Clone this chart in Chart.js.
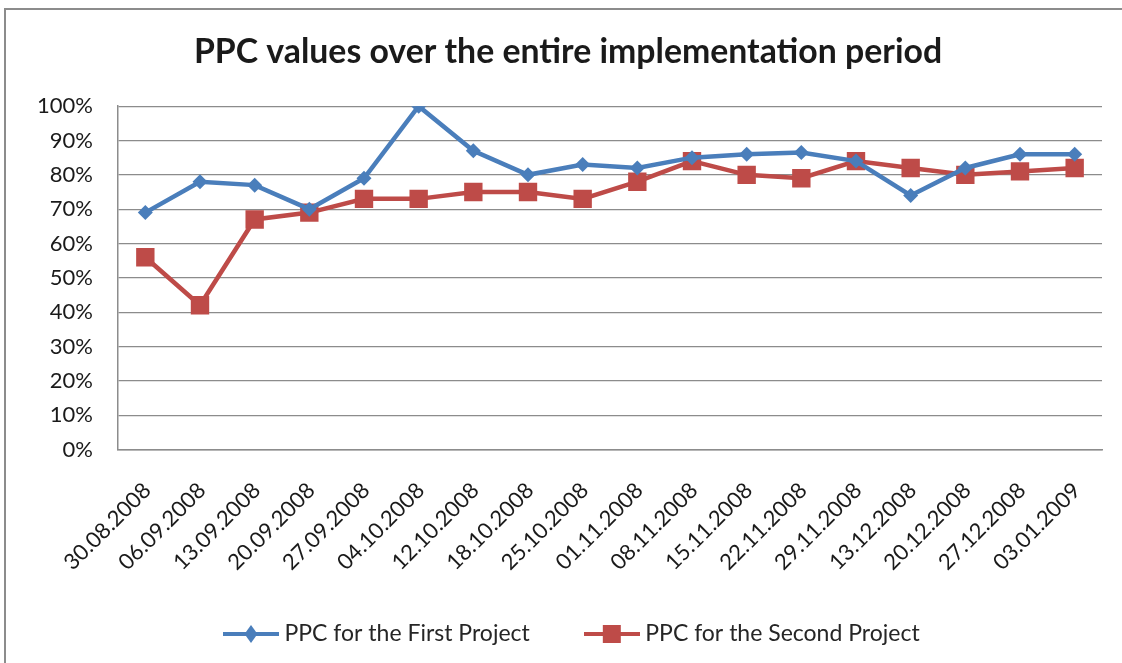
<!DOCTYPE html>
<html>
<head>
<meta charset="utf-8">
<script src="https://cdn.jsdelivr.net/npm/chart.js@4.4.1/dist/chart.umd.min.js"></script>
<style>
  html, body { margin: 0; padding: 0; background: #ffffff; }
  #frame { position: absolute; left: 4px; top: 8px; width: 1130px; height: 670px;
           border-top: 2px solid #8c8c8c; border-left: 2px solid #8c8c8c; box-sizing: border-box; }
  #wrap { position: absolute; left: 0; top: 0; width: 1122px; height: 663px; }
</style>
</head>
<body>
<div id="frame"></div>
<div id="wrap"><canvas id="c" width="1122" height="663"></canvas></div>
<script>
const categories = ["30.08.2008","06.09.2008","13.09.2008","20.09.2008","27.09.2008","04.10.2008",
  "12.10.2008","18.10.2008","25.10.2008","01.11.2008","08.11.2008","15.11.2008","22.11.2008",
  "29.11.2008","13.12.2008","20.12.2008","27.12.2008","03.01.2009"];
const firstProject  = [69, 78, 77, 70, 79, 100, 87, 80, 83, 82, 85, 86, 86.5, 84, 74, 82, 86, 86];
const secondProject = [56, 42, 67, 69, 73, 73, 75, 75, 73, 78, 84, 80, 79, 84, 82, 80, 81, 82];
const seriesNames = ["PPC for the First Project", "PPC for the Second Project"];
const yTicks = [0, 10, 20, 30, 40, 50, 60, 70, 80, 90, 100];

const BLUE = "#4a7ebb", RED = "#be4b48";
const FONT = "Lato, 'Liberation Sans', sans-serif";
const LEGEND_START_X = 229;
const TITLE_CENTER_X = 568;

function legendIcon(color, shape) {
  const cv = document.createElement("canvas");
  cv.width = 56; cv.height = 20;
  const g = cv.getContext("2d");
  g.strokeStyle = color; g.lineWidth = 4; g.lineCap = "butt";
  g.beginPath(); g.moveTo(0, 10); g.lineTo(56, 10); g.stroke();
  g.fillStyle = color;
  g.beginPath();
  if (shape === "diamond") {
    g.moveTo(28, 1); g.lineTo(34.5, 10); g.lineTo(28, 19); g.lineTo(21.5, 10); g.closePath();
  } else {
    g.rect(19, 1, 18, 18);
  }
  g.fill();
  return cv;
}

const blockShift = {
  id: "blockShift",
  afterLayout(chart) {
    const lg = chart.legend;
    if (lg && lg.lineWidths) {
      const p = lg.options.labels.padding;
      const start = (lg.left + p + lg.right - lg.lineWidths[0]) / 2;
      const d = LEGEND_START_X - start;
      lg.left += d; lg.right += d;
    }
    const tb = chart.titleBlock;
    if (tb) {
      const d = TITLE_CENTER_X - (tb.left + tb.right) / 2;
      tb.left += d; tb.right += d;
    }
    // let the rotated x labels extend below the axis box without being clipped
    const xs = chart.scales.x;
    if (xs) { xs.bottom = chart.height; }
  }
};

new Chart(document.getElementById("c"), {
  type: "line",
  data: {
    labels: categories,
    datasets: [
      { label: seriesNames[0], data: firstProject, borderColor: BLUE, backgroundColor: BLUE,
        borderWidth: 4.5, pointStyle: "rectRot", pointRadius: 7.5, pointBorderWidth: 0,
        pointBackgroundColor: BLUE, tension: 0 },
      { label: seriesNames[1], data: secondProject, borderColor: RED, backgroundColor: RED,
        borderWidth: 4.5, pointStyle: "rect", pointRadius: 13, pointBorderWidth: 0,
        pointBackgroundColor: RED, tension: 0 }
    ]
  },
  plugins: [blockShift],
  options: {
    responsive: false,
    animation: false,
    layout: { padding: { left: 0, right: 20, top: 0, bottom: 7.5 } },
    plugins: {
      title: { display: true, text: "PPC values over the entire implementation period",
        color: "#1a1a1a", font: { family: FONT, size: 33.8, weight: "bold" },
        padding: { top: 32, bottom: 33.6 } },
      legend: { position: "bottom",
        labels: { usePointStyle: true, color: "#262626", font: { family: FONT, size: 23 },
          padding: 60, pointStyleWidth: 44, boxHeight: 20,
          generateLabels: (chart) => chart.data.datasets.map((d, i) => ({
            text: d.label, pointStyle: legendIcon(d.borderColor, i === 0 ? "diamond" : "square"),
            fillStyle: d.borderColor, strokeStyle: d.borderColor, lineWidth: 0, datasetIndex: i,
            hidden: false, fontColor: "#262626"
          })) } },
      tooltip: { enabled: false }
    },
    scales: {
      x: {
        offset: true,
        grid: { display: false, drawTicks: false },
        border: { display: true, color: "#8c8c8c", width: 1.5 },
        ticks: { color: "#1a1a1a", font: { family: FONT, size: 22 }, minRotation: 45, maxRotation: 45,
          padding: 28, labelOffset: 2, autoSkip: false },
        afterFit: (s) => { s.height = 113; }
      },
      y: {
        min: 0, max: 100,
        afterBuildTicks: (s) => { s.ticks = yTicks.map(v => ({ value: v })); },
        grid: { color: "#8c8c8c", lineWidth: 1.2, drawTicks: false },
        border: { display: true, color: "#8c8c8c", width: 1.5 },
        ticks: { color: "#1a1a1a", font: { family: FONT, size: 22 }, padding: 25,
          callback: (v) => v + "%" },
        afterFit: (s) => { s.width = 118; }
      }
    }
  }
});
</script>
</body>
</html>
